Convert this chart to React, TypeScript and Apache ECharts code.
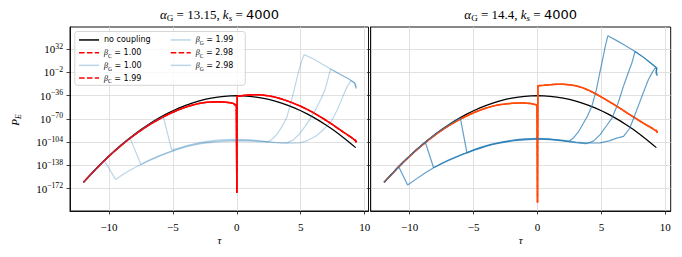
import React, { useEffect, useRef } from 'react';
import * as echarts from 'echarts';

// ---------- data (tau, log10 P_E) ----------
const xTicks = [-10, -5, 0, 5, 10];
const yTicks = [-172, -138, -104, -70, -36, -2, 32];
const alphaValues = ['13.15', '14.4'];
const ksValue = '4000';
const legendLabels = ['no coupling', 'β_C = 1.00', 'β_G = 1.00', 'β_C = 1.99', 'β_G = 1.99', 'β_C = 2.98', 'β_G = 2.98'];

const noCoupling = [
  [-12, -162.7], [-11.5, -152.4], [-11, -142.5], [-10.5, -133], [-10, -124], [-9.5, -115.4], [-9, -107.3],
  [-8.5, -99.6], [-8, -92.3], [-7.5, -85.5], [-7, -79.1], [-6.5, -73.2], [-6, -67.7], [-5.5, -62.6], [-5, -58],
  [-4.5, -53.8], [-4, -50.1], [-3.5, -46.8], [-3, -43.9], [-2.5, -41.5], [-2, -39.5], [-1.5, -38], [-1, -36.9],
  [-0.5, -36.2], [0, -36], [0.5, -36.2], [1, -36.9], [1.5, -38], [2, -39.5], [2.5, -41.5], [3, -43.9], [3.5, -46.8],
  [4, -50.1], [4.5, -53.8], [5, -58], [5.5, -62.6], [6, -67.7], [6.5, -73.2], [7, -79.1], [7.5, -85.5], [8, -92.3],
  [8.5, -99.6], [9, -107.3], [9.3, -112],
];

const betaCLeft = [
  [-12, -162.7], [-11.5, -152.6], [-11, -142.8], [-10.5, -133.4], [-10, -124.5], [-9.5, -116], [-9, -108],
  [-8.5, -100.4], [-8, -93.3], [-7.5, -86.6], [-7, -80.4], [-6.5, -74.7], [-6, -69.5], [-5.5, -64.6], [-5, -60.2],
  [-4.5, -56.2], [-4, -52.8], [-3.5, -49.9], [-3, -47.6], [-2.5, -46], [-2, -45.2], [-1.5, -45], [-1, -45.4],
  [-0.5, -46.4], [-0.25, -47.5], [-0.15, -49.5], [-0.04, -48.5], [0, -178], [0.03, -37], [0.5, -35.6], [1, -34.9],
  [1.5, -34.6], [2, -35], [2.5, -36.3], [3, -38.1], [3.5, -40.8], [4, -44], [4.5, -47.6], [5, -51.5], [5.5, -56],
  [6, -61], [6.5, -66.5], [7, -72.3], [7.5, -78.5], [8, -85], [8.5, -91.3], [9, -97.6], [9.3, -102],
  [9.22, -100.3], [9.36, -104.3], [9.27, -101.5], [9.35, -103.2],
];

const betaGLeft1 = [
  [-12, -162.7], [-11.5, -152.4], [-11, -142.5], [-10.37, -130.8], [-9.48, -158.4], [-9, -152.5], [-8.5, -146.5],
  [-8, -141.5], [-7.5, -136.6], [-7, -132], [-6.5, -128], [-6, -124], [-5.5, -120.3], [-5, -117], [-4.5, -114],
  [-4, -111], [-3.5, -108.8], [-3, -107], [-2.5, -105.5], [-2, -104.5], [-1.5, -103.5], [-1, -103], [0, -102.3],
  [1, -102.5], [2, -103.5], [2.45, -103.5], [2.8, -99], [3.2, -91], [3.6, -79], [3.9, -68], [4.15, -52], [4.45, -30],
  [4.8, -3], [5.05, 13], [5.26, 24], [6, 17.5], [6.7, 10], [7.34, 3], [8, -4], [8.7, -11], [9.22, -17.5],
  [9.35, -25], [9.27, -19], [9.35, -23],
];
const betaGLeft2 = [
  [-12, -162.7], [-11, -142.5], [-10, -124], [-9, -107.3], [-8.36, -97.7], [-7.5, -136.6], [-7, -131.5],
  [-6.5, -127.3], [-6, -123.3], [-5.5, -119.6], [-5, -116.3], [-4.5, -113.2], [-4, -110.3], [-3.5, -108], [-3, -106],
  [-2.5, -104.5], [-2, -103.3], [-1.5, -102.3], [-1, -101.6], [0, -101], [1, -101.3], [2, -102.8], [2.5, -104],
  [3, -104.8], [3.5, -105.2], [3.9, -105], [4.4, -101], [4.9, -92], [5.3, -82], [5.7, -71], [6.2, -55], [6.6, -40],
  [6.9, -27], [7.15, -10], [7.34, 3], [8, -4], [8.7, -11], [9.22, -17.5], [9.33, -24], [9.25, -20],
];
const betaGLeft3 = [
  [-12, -162.7], [-11, -142.5], [-10, -124], [-9, -107.3], [-8, -92.3], [-7, -79.1], [-6.2, -69.8], [-5.76, -66.2],
  [-5.1, -115], [-4.5, -112.3], [-4, -109.5], [-3.5, -107], [-3, -105], [-2.5, -103.3], [-2, -102], [-1.5, -101],
  [-1, -100.3], [0, -99.8], [1, -100.5], [2, -102.3], [3, -104.3], [4, -105.5], [4.9, -105], [5.5, -102],
  [6.2, -95], [6.8, -85], [7.4, -73.5], [7.9, -55], [8.3, -37], [8.65, -22], [8.95, -14], [9.22, -17.5],
  [9.33, -26], [9.27, -21],
];

const betaCRight = [
  [-12, -162.7], [-11.5, -152.6], [-11, -142.8], [-10.5, -133.4], [-10, -124.5], [-9.5, -116], [-9, -108],
  [-8.5, -100.4], [-8, -93.3], [-7.5, -86.6], [-7, -80.5], [-6.5, -75], [-6, -70], [-5.5, -65.3], [-5, -61],
  [-4.5, -57.2], [-4, -54], [-3.5, -51.3], [-3, -49.3], [-2.5, -48], [-2, -47.2], [-1.5, -46.8], [-1, -46.8],
  [-0.5, -47.6], [-0.2, -48.8], [-0.04, -49.5], [0, -192], [0.03, -21.5], [0.5, -20.8], [1, -20], [1.5, -19.4],
  [2, -19.3], [2.5, -20], [3, -21.6], [3.5, -24.2], [4, -28], [4.5, -32.8], [5, -38], [5.5, -43.5], [6, -49.2],
  [6.5, -55], [7, -61.2], [7.5, -67], [8, -73], [8.5, -78.6], [9, -84], [9.33, -88], [9.26, -86.2], [9.38, -90],
  [9.3, -87.6],
];

const betaGRight1 = [
  [-12, -162.7], [-11.5, -152.4], [-10.86, -139.8], [-10.16, -166.7], [-9.5, -158], [-8.8, -149], [-8.13, -141.4],
  [-7.5, -135.5], [-7, -131], [-6.5, -127], [-6, -123], [-5.52, -119.6], [-5, -116], [-4.5, -113], [-4, -110],
  [-3.56, -107.8], [-3, -105.5], [-2.5, -103.8], [-2, -102.3], [-1.5, -101.3], [-1, -100.5], [0, -99.7], [1, -100.3],
  [2, -102], [2.45, -103], [2.8, -98], [3.2, -89], [3.6, -76], [3.9, -66], [4.25, -51.6], [4.6, -28], [4.9, 0],
  [5.15, 22], [5.3, 36], [5.5, 51.5], [6.2, 44.5], [6.9, 37], [7.63, 28.6], [8.3, 20], [8.9, 11], [9.33, 4.4],
  [9.28, -2], [9.37, -7], [9.3, 0],
];
const betaGRight2 = [
  [-12, -162.7], [-11, -142.5], [-10, -124], [-9.4, -113.8], [-8.77, -104.5], [-8.13, -141.4], [-7.5, -135],
  [-7, -130.5], [-6.5, -126.5], [-6, -122.5], [-5.52, -119], [-5, -115.5], [-4.5, -112.3], [-4, -109.5],
  [-3.5, -107], [-3, -105], [-2.5, -103.3], [-2, -101.8], [-1.5, -100.7], [-1, -99.8], [0, -99], [1, -99.8],
  [2, -101.8], [2.5, -103.5], [3, -104.8], [3.5, -105.7], [3.86, -106], [4.4, -102], [4.9, -93], [5.4, -80],
  [5.85, -68], [6.3, -47], [6.72, -22.4], [7.05, -5], [7.38, 11.7], [7.63, 28.6], [8.3, 20], [8.9, 11],
  [9.33, 4.4], [9.27, -1],
];
const betaGRight3 = [
  [-12, -162.7], [-11, -142.5], [-10, -124], [-9, -107.3], [-8, -92.3], [-7, -79.1], [-6.04, -68.3],
  [-5.52, -119.6], [-5, -115.2], [-4.5, -112], [-4, -109], [-3.5, -106.5], [-3, -104.5], [-2.5, -102.8],
  [-2, -101.2], [-1.5, -100], [-1, -99.2], [0, -98.5], [1, -99.3], [2, -101.3], [3, -103.8], [4, -105.2],
  [4.9, -105], [5.6, -102], [6.2, -98], [6.73, -95.6], [7.2, -84], [7.5, -70], [8.02, -44.3], [8.35, -28],
  [8.67, -12.7], [8.95, -3], [9.2, 4.4], [9.33, 3], [9.28, -4], [9.36, -6],
];

// ---------- styling ----------
const SERIF = 'Liberation Serif';
const SANS = 'DejaVu Sans';
const GRID_COLOR = '#d9d9d9';
const AX_COLOR = '#111';
const LIGHT_BLUE = 'rgba(31,119,180,0.3)';
const BLUE = 'rgba(31,119,180,0.7)';
const RED = '#ff0000';
const ORANGE = '#ff4a0a';
const DASH = [5.5, 2.4];

const minus = (v: number) => (v < 0 ? '\u2212' + Math.abs(v) : String(v));

const tickRich = {
  b: { fontFamily: SERIF, fontSize: 11, lineHeight: 14, color: '#000' },
  sup: { fontFamily: SERIF, fontSize: 7.7, lineHeight: 7, verticalAlign: 'top', color: '#000' },
  x: { fontFamily: SERIF, fontSize: 11, lineHeight: 14, color: '#000' },
};

const mathRich = (size: number, lh: number) => ({
  mi: { fontFamily: SERIF, fontStyle: 'italic', fontSize: size, lineHeight: lh, color: '#000' },
  t: { fontFamily: SERIF, fontSize: size, lineHeight: lh, color: '#000' },
  sans: { fontFamily: SANS, fontSize: size, lineHeight: lh, color: '#000' },
  sub: { fontFamily: SERIF, fontSize: size * 0.7, lineHeight: lh * 0.6, verticalAlign: 'bottom', color: '#000' },
  subi: { fontFamily: SERIF, fontStyle: 'italic', fontSize: size * 0.7, lineHeight: lh * 0.6, verticalAlign: 'bottom', color: '#000' },
});

function legendFormatter(name: string) {
  const m = name.match(/^β_(\w) = (.*)$/);
  if (!m) return `{sans|${name}}`;
  return `{mi|β}{sub|${m[1]}}{sans| = ${m[2]}}`;
}

function makeXAxis(gridIndex: number, max: number) {
  return {
    type: 'value', gridIndex, min: -13.05, max,
    axisLine: { show: true, onZero: false, lineStyle: { color: AX_COLOR, width: 1 } },
    axisTick: { show: true, length: 3.5, inside: false, customValues: xTicks, lineStyle: { color: AX_COLOR, width: 0.8 } },
    axisLabel: { show: true, customValues: xTicks, margin: 9, formatter: (v: number) => `{x|${minus(v)}}`, rich: tickRich },
    splitLine: { show: true, lineStyle: { color: GRID_COLOR, width: 0.8 } },
  };
}
function makeYAxis(gridIndex: number, showLabels: boolean) {
  return {
    type: 'value', gridIndex, min: -204.6, max: 64.4,
    axisLine: { show: true, onZero: false, lineStyle: { color: AX_COLOR, width: 1 } },
    axisTick: { show: true, length: 3.5, inside: false, customValues: yTicks, lineStyle: { color: AX_COLOR, width: 0.8 } },
    axisLabel: {
      show: showLabels, customValues: yTicks, margin: 7,
      formatter: (v: number) => `{b|10}{sup|${minus(v)}}`, rich: tickRich,
    },
    splitLine: { show: true, lineStyle: { color: GRID_COLOR, width: 0.8 } },
  };
}

function line(name: string, idx: number, data: number[][], color: string, width: number, dash?: number[], dashOffset = 0) {
  return {
    name, type: 'line', xAxisIndex: idx, yAxisIndex: idx, data, symbol: 'none', showSymbol: false,
    silent: true, color, clip: true,
    lineStyle: { color, width, type: dash ? dash : 'solid', dashOffset },
    emphasis: { disabled: true },
  };
}

const legendCommon = {
  orient: 'vertical', top: 33.6, padding: 0, itemGap: 0,
  itemWidth: 20, itemHeight: 8, selectedMode: false, itemStyle: { opacity: 0 },
  lineStyle: { width: 1.5, dashOffset: 0 },
  formatter: legendFormatter, textStyle: { rich: mathRich(8, 12.7), lineHeight: 12.7 }, z: 5,
};

const option = {
  animation: false,
  backgroundColor: '#fff',
  grid: [
    { left: 70, top: 27, width: 298.5, height: 184, show: true, borderColor: AX_COLOR, borderWidth: 1, backgroundColor: 'transparent' },
    { left: 370.7, top: 27, width: 300, height: 184, show: true, borderColor: AX_COLOR, borderWidth: 1, backgroundColor: 'transparent' },
  ],
  xAxis: [makeXAxis(0, 10.3), makeXAxis(1, 10.42)],
  yAxis: [makeYAxis(0, true), makeYAxis(1, false)],
  legend: [
    { ...legendCommon, data: legendLabels.slice(0, 4), left: 78.3 },
    { ...legendCommon, data: legendLabels.slice(4), left: 170 },
  ],
  graphic: [
    {
      type: 'rect', z: 3, silent: true,
      shape: { x: 74.8, y: 31.5, width: 170.5, height: 53.8, r: 2.5 },
      style: { fill: 'rgba(255,255,255,0.8)', stroke: '#cccccc', lineWidth: 0.8 },
    },
    {
      type: 'text', x: 219.5, y: 14, silent: true,
      style: {
        text: `{mi|α}{sub|G}{t| = ${alphaValues[0]}, }{mi|k}{subi|s}{t| = }{sans|${ksValue}}`,
        rich: mathRich(13, 16), align: 'center', verticalAlign: 'middle',
      },
    },
    {
      type: 'text', x: 520.7, y: 14, silent: true,
      style: {
        text: `{mi|α}{sub|G}{t| = ${alphaValues[1]}, }{mi|k}{subi|s}{t| = }{sans|${ksValue}}`,
        rich: mathRich(13, 16), align: 'center', verticalAlign: 'middle',
      },
    },
    {
      type: 'text', x: 15, y: 120, rotation: Math.PI / 2, silent: true,
      style: { text: '{mi|P}{subi|E}', rich: mathRich(11, 14), align: 'center', verticalAlign: 'middle' },
    },
    {
      type: 'text', x: 219.5, y: 239.5, silent: true,
      style: { text: '{mi|τ}', rich: mathRich(11, 14), align: 'center', verticalAlign: 'middle' },
    },
    {
      type: 'text', x: 520.7, y: 239.5, silent: true,
      style: { text: '{mi|τ}', rich: mathRich(11, 14), align: 'center', verticalAlign: 'middle' },
    },
  ],
  series: [
    line(legendLabels[0], 0, noCoupling, '#000', 1.2),
    line(legendLabels[1], 0, betaCLeft, RED, 1.5, DASH, 0),
    line(legendLabels[2], 0, betaGLeft1, LIGHT_BLUE, 1.2),
    line(legendLabels[3], 0, betaCLeft, RED, 1.5, DASH, 2.6),
    line(legendLabels[4], 0, betaGLeft2, LIGHT_BLUE, 1.2),
    line(legendLabels[5], 0, betaCLeft, RED, 1.5, DASH, 5.2),
    line(legendLabels[6], 0, betaGLeft3, LIGHT_BLUE, 1.2),
    line('right: no coupling', 1, noCoupling, '#000', 1.2),
    line('right: β_C = 1.00', 1, betaCRight, ORANGE, 1.5, DASH, 0),
    line('right: β_G = 1.00', 1, betaGRight1, BLUE, 1.2),
    line('right: β_C = 1.99', 1, betaCRight, ORANGE, 1.5, DASH, 2.6),
    line('right: β_G = 1.99', 1, betaGRight2, BLUE, 1.2),
    line('right: β_C = 2.98', 1, betaCRight, ORANGE, 1.5, DASH, 5.2),
    line('right: β_G = 2.98', 1, betaGRight3, BLUE, 1.2),
  ],
};

export default function App() {
  const ref = useRef<HTMLDivElement>(null);
  useEffect(() => {
    document.body.style.margin = '0';
    const chart = echarts.init(ref.current as HTMLDivElement, null, { renderer: 'svg' });
    chart.setOption(option as any);
    return () => chart.dispose();
  }, []);
  return <div ref={ref} style={{ position: 'absolute', left: 0, top: 0, width: 682, height: 257, background: '#fff' }} />;
}
